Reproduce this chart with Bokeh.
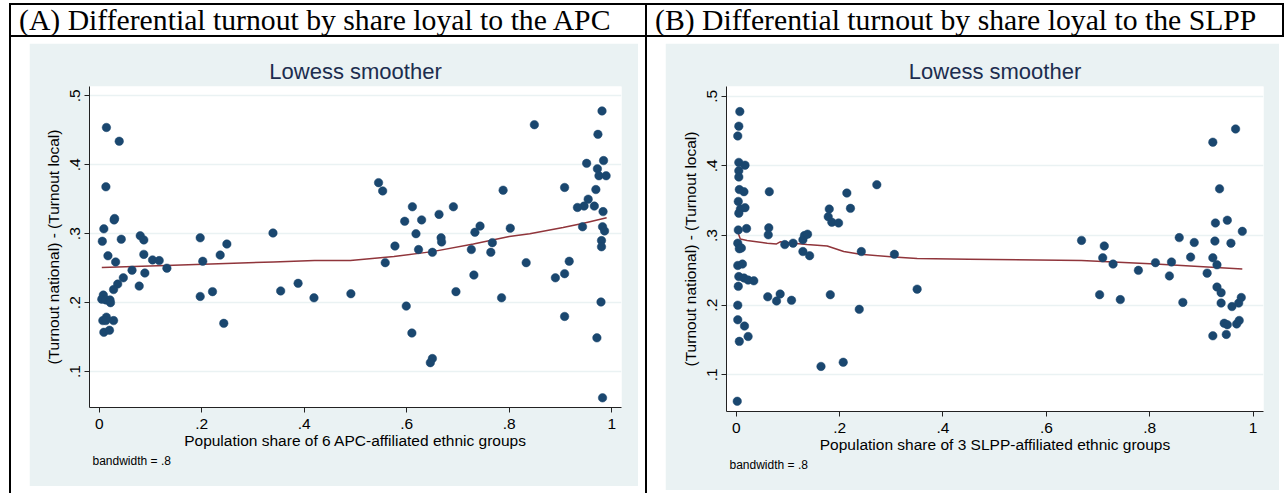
from bokeh.plotting import figure
from bokeh.models import Range1d, FixedTicker, Div, Title
from bokeh.layouts import row, column
from bokeh.embed import file_html
from bokeh.resources import INLINE

# ---------------- data ----------------
apc_x = [0.014, 0.039, 0.013, 0.030, 0.029, 0.009, 0.006, 0.043, 0.080, 0.087,
         0.017, 0.032, 0.087, 0.104, 0.117, 0.132, 0.064, 0.047, 0.089, 0.036,
         0.028, 0.078, 0.008, 0.005, 0.013, 0.021, 0.022, 0.007, 0.014, 0.013,
         0.028, 0.009, 0.020, 0.197, 0.202, 0.249, 0.236, 0.197, 0.221, 0.243,
         0.339, 0.354, 0.388, 0.419,
         0.981, 0.849, 0.973, 0.984, 0.951, 0.972, 0.975, 0.989, 0.545, 0.553,
         0.788, 0.908, 0.969, 0.954, 0.946, 0.933, 0.966, 0.983, 0.611, 0.691,
         0.663, 0.596, 0.629, 0.743, 0.733, 0.802, 0.943, 0.982, 0.986, 0.618,
         0.667, 0.668, 0.577, 0.767, 0.623, 0.650, 0.726, 0.764, 0.980, 0.980,
         0.558, 0.833, 0.917, 0.731, 0.908, 0.890, 0.491, 0.696, 0.785, 0.979,
         0.599, 0.908, 0.610, 0.971, 0.650, 0.646, 0.982]
apc_y = [0.454, 0.434, 0.368, 0.322, 0.320, 0.307, 0.289, 0.292, 0.297, 0.291,
         0.268, 0.259, 0.270, 0.262, 0.261, 0.250, 0.247, 0.236, 0.243, 0.227,
         0.219, 0.224, 0.211, 0.205, 0.204, 0.204, 0.200, 0.174, 0.179, 0.174,
         0.174, 0.157, 0.160, 0.294, 0.260, 0.285, 0.269, 0.209, 0.216, 0.170,
         0.301, 0.217, 0.228, 0.207,
         0.478, 0.458, 0.444, 0.406, 0.402, 0.394, 0.384, 0.384, 0.374, 0.362,
         0.363, 0.367, 0.364, 0.350, 0.340, 0.338, 0.340, 0.332, 0.339, 0.339,
         0.328, 0.318, 0.320, 0.311, 0.302, 0.308, 0.310, 0.310, 0.304, 0.300,
         0.294, 0.288, 0.282, 0.287, 0.277, 0.273, 0.277, 0.273, 0.290, 0.281,
         0.258, 0.258, 0.260, 0.240, 0.242, 0.236, 0.213, 0.216, 0.207, 0.201,
         0.195, 0.180, 0.156, 0.149, 0.119, 0.113, 0.062]
apc_lowess_x = [0.005, 0.13, 0.34, 0.42, 0.49, 0.575, 0.65, 0.73, 0.80, 0.84, 0.905, 0.945, 0.99]
apc_lowess_y = [0.251, 0.254, 0.259, 0.261, 0.261, 0.267, 0.274, 0.285, 0.296, 0.300, 0.309, 0.315, 0.323]

slpp_x = [0.007, 0.005, 0.003, 0.005, 0.017, 0.005, 0.005, 0.006, 0.015, 0.064,
          0.004, 0.008, 0.017, 0.005, 0.004, 0.020, 0.063, 0.062, 0.003, 0.006,
          0.010, 0.003, 0.012, 0.005, 0.015, 0.023, 0.034, 0.004, 0.003, 0.003,
          0.016, 0.006, 0.023, 0.002, 0.061, 0.078, 0.085, 0.094, 0.110, 0.107,
          0.129, 0.132, 0.138, 0.129, 0.142, 0.180, 0.178, 0.185, 0.198, 0.214,
          0.221, 0.182, 0.164, 0.207, 0.238, 0.242, 0.272, 0.306, 0.350,
          0.966, 0.922, 0.935, 0.950, 0.927, 0.979, 0.668, 0.712, 0.857, 0.886,
          0.926, 0.957, 0.709, 0.729, 0.811, 0.842, 0.879, 0.922, 0.930, 0.778,
          0.838, 0.911, 0.930, 0.938, 0.703, 0.743, 0.864, 0.938, 0.959, 0.972,
          0.977, 0.944, 0.950, 0.968, 0.973, 0.922, 0.948]
slpp_y = [0.478, 0.457, 0.443, 0.405, 0.401, 0.393, 0.384, 0.366, 0.363, 0.363,
          0.349, 0.338, 0.340, 0.332, 0.308, 0.310, 0.311, 0.301, 0.289, 0.281,
          0.282, 0.257, 0.259, 0.241, 0.239, 0.236, 0.235, 0.227, 0.200, 0.179,
          0.170, 0.148, 0.155, 0.062, 0.212, 0.206, 0.216, 0.287, 0.289, 0.207,
          0.294, 0.300, 0.302, 0.277, 0.271, 0.338, 0.327, 0.319, 0.318, 0.361,
          0.339, 0.215, 0.112, 0.118, 0.194, 0.277, 0.373, 0.273, 0.223,
          0.453, 0.434, 0.367, 0.322, 0.318, 0.306, 0.293, 0.285, 0.297, 0.290,
          0.292, 0.289, 0.268, 0.259, 0.261, 0.262, 0.269, 0.268, 0.258, 0.250,
          0.242, 0.246, 0.226, 0.218, 0.215, 0.208, 0.204, 0.203, 0.198, 0.203,
          0.211, 0.174, 0.172, 0.173, 0.178, 0.156, 0.158]
slpp_lowess_x = [0.002, 0.008, 0.021, 0.06, 0.078, 0.085, 0.111, 0.137, 0.176, 0.208,
                 0.24, 0.305, 0.35, 0.45, 0.668, 0.811, 0.979]
slpp_lowess_y = [0.307, 0.295, 0.293, 0.289, 0.288, 0.291, 0.289, 0.287, 0.285, 0.277,
                 0.273, 0.269, 0.267, 0.266, 0.264, 0.259, 0.252]

x_ticks = [0, 0.2, 0.4, 0.6, 0.8, 1]
x_tick_labels = ["0", ".2", ".4", ".6", ".8", "1"]
y_ticks = [0.1, 0.2, 0.3, 0.4, 0.5]
y_tick_labels = [".1", ".2", ".3", ".4", ".5"]

title_a = "(A) Differential turnout by share loyal to the APC"
title_b = "(B) Differential turnout by share loyal to the SLPP"
xlabel_a = "Population share of 6 APC-affiliated ethnic groups"
xlabel_b = "Population share of 3 SLPP-affiliated ethnic groups"
ylabel = "(Turnout national) - (Turnout local)"
plot_title = "Lowess smoother"
note = "bandwidth = .8"

# ---------------- styles ----------------
SANS = "Liberation Sans"
REGION = "#EAF2F3"
NAVY = "#1a476f"
MAROON = "#90353b"


def panel(px, py, lx, ly, xlab, w, h, mbl, mbr, mbt, mbb, xr, yr, margin):
    p = figure(width=w, height=h, x_range=Range1d(*xr), y_range=Range1d(*yr),
               output_backend="svg", toolbar_location=None,
               min_border_left=mbl, min_border_right=mbr,
               min_border_top=mbt, min_border_bottom=mbb,
               title=plot_title, margin=margin)
    p.border_fill_color = REGION
    p.background_fill_color = "white"
    p.outline_line_color = None
    p.title.align = "center"
    p.title.text_font = SANS
    p.title.text_font_size = "22px"
    p.title.text_font_style = "normal"
    p.title.text_color = "#1c2d4f"
    p.title.standoff = 5

    p.xgrid.visible = False
    p.ygrid.grid_line_color = REGION
    p.ygrid.grid_line_width = 1.5

    for ax in (p.xaxis[0], p.yaxis[0]):
        ax.axis_line_color = "#222222"
        ax.major_tick_line_color = "#222222"
        ax.major_tick_out = 5
        ax.major_tick_in = 0
        ax.minor_tick_line_color = None
        ax.major_label_text_font = SANS
        ax.major_label_text_font_size = "15.5px"
        ax.major_label_text_color = "black"
        ax.axis_label_text_font = SANS
        ax.axis_label_text_font_size = "15.5px"
        ax.axis_label_text_font_style = "normal"
        ax.axis_label_text_color = "black"

    p.xaxis.ticker = FixedTicker(ticks=x_ticks)
    p.xaxis.major_label_overrides = dict(zip(x_ticks, x_tick_labels))
    p.xaxis.axis_label = xlab
    p.xaxis.major_label_standoff = 6
    p.xaxis.axis_label_standoff = 0

    p.yaxis.ticker = FixedTicker(ticks=y_ticks)
    p.yaxis.major_label_overrides = dict(zip(y_ticks, y_tick_labels))
    p.yaxis.major_label_orientation = "vertical"
    p.yaxis.axis_label = ylabel
    p.yaxis.major_label_standoff = 4
    p.yaxis.axis_label_standoff = 6

    p.line(lx, ly, line_color=MAROON, line_width=1.5)
    p.scatter(px, py, size=8.5, fill_color=NAVY, line_color=NAVY, line_width=0.5)

    p.add_layout(Title(text=note, align="left", text_font=SANS, text_font_size="12px",
                       text_font_style="normal", text_color="black", offset=3, standoff=1),
                 "below")
    return p


pa = panel(apc_x, apc_y, apc_lowess_x, apc_lowess_y, xlabel_a,
           609, 443, 60, 17, 43, 78, (-0.019, 1.019), (0.048, 0.5134), (6, 7, 0, 18))
pb = panel(slpp_x, slpp_y, slpp_lowess_x, slpp_lowess_y, xlabel_b,
           614, 447, 61, 16, 43, 79, (-0.0188, 1.020), (0.0473, 0.514), (6, 0, 0, 18))


def vline(h):
    return Div(text="", width=2, height=h, margin=(0, 0, 0, 0),
               styles={"background-color": "black"})


def title_div(t, w, borders):
    html = ('<div style="font-family:\'Liberation Serif\',serif;font-size:29.7px;'
            'line-height:30px;padding-left:8px;white-space:nowrap;color:black">%s</div>' % t)
    st = {"box-sizing": "border-box"}
    for b in borders:
        st["border-" + b] = "2px solid black"
    return Div(text=html, width=w, height=34, margin=(0, 0, 0, 0), styles=st)


title_row = row(title_div(title_a, 638, ["top", "bottom", "left", "right"]),
                title_div(title_b, 637, ["top", "bottom", "right"]),
                margin=(3, 0, 0, 9))
plot_row = row(vline(456), pa, vline(456), pb, margin=(0, 0, 0, 9))

layout = column(title_row, plot_row, margin=(0, 0, 0, 0))

open("out.html", "w").write(file_html(layout, INLINE))
